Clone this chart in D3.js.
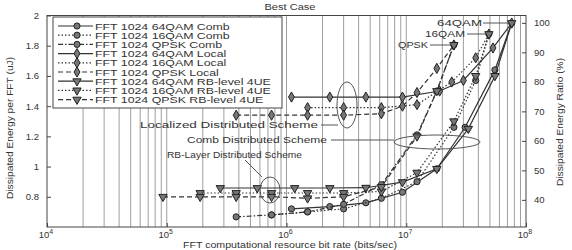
<!DOCTYPE html>
<html>
<head>
<meta charset="utf-8">
<script src="https://cdn.jsdelivr.net/npm/d3@7/dist/d3.min.js"></script>
<style>
  body { margin: 0; background: #fff; }
  text { font-family: "Liberation Sans", Arial, sans-serif; fill: #333; }
</style>
</head>
<body>
<div class="chart"></div>
<script>
// bit rates (bits/sec) and dissipated energy per FFT (uJ)
var rate64Comb  = [1.1e6, 2.3e6, 4.6e6, 9.3e6, 1.8e7, 3.1e7, 5.5e7, 7.6e7];
var energy64Comb = [0.72, 0.735, 0.76, 0.83, 0.985, 1.26, 1.64, 1.95];
var rate16Comb  = [7.5e5, 1.5e6, 3.0e6, 6.2e6, 1.23e7, 2.5e7, 3.8e7, 4.9e7];
var energy16Comb = [0.68, 0.70, 0.72, 0.79, 0.90, 1.26, 1.57, 1.877];
var rateQComb   = [3.8e5, 7.5e5, 1.5e6, 3.0e6, 6.2e6, 1.23e7, 1.8e7, 2.5e7];
var energyQComb  = [0.667, 0.68, 0.70, 0.75, 0.88, 1.21, 1.50, 1.805];

var rate64Local  = [1.1e6, 2.3e6, 4.6e6, 9.3e6, 1.9e7, 3.0e7, 5.3e7, 7.6e7];
var energy64Local = [1.46, 1.46, 1.46, 1.46, 1.50, 1.57, 1.785, 1.95];
var rate16Local  = [1.5e6, 3.0e6, 6.2e6, 1.23e7, 2.4e7, 3.8e7, 4.9e7];
var energy16Local = [1.39, 1.39, 1.39, 1.41, 1.56, 1.72, 1.877];
var rateQLocal   = [3.8e5, 7.5e5, 1.5e6, 3.0e6, 6.2e6, 9.3e6, 1.23e7, 1.8e7, 2.5e7];
var energyQLocal  = [1.34, 1.34, 1.34, 1.34, 1.35, 1.40, 1.49, 1.65, 1.805];

var rate64RB  = [2.8e5, 5.7e5, 1.17e6, 2.3e6, 4.6e6, 9.3e6, 1.8e7, 3.3e7, 5.5e7, 7.6e7];
var energy64RB = [0.858, 0.858, 0.858, 0.858, 0.86, 0.897, 0.985, 1.25, 1.6, 1.95];
var rate16RB  = [1.9e5, 3.8e5, 7.5e5, 1.5e6, 3.0e6, 6.2e6, 1.23e7, 2.5e7, 3.8e7, 4.9e7];
var energy16RB = [0.825, 0.825, 0.825, 0.825, 0.825, 0.835, 0.96, 1.30, 1.60, 1.877];
var rateQRB   = [9.3e4, 1.9e5, 3.8e5, 7.5e5, 1.5e6, 3.0e6, 6.2e6, 1.23e7, 1.8e7, 2.5e7];
var energyQRB  = [0.80, 0.80, 0.80, 0.80, 0.79, 0.80, 0.865, 1.2, 1.5, 1.805];

var seriesNames = [
  "FFT 1024 64QAM Comb", "FFT 1024 16QAM Comb", "FFT 1024 QPSK Comb",
  "FFT 1024 64QAM Local", "FFT 1024 16QAM Local", "FFT 1024 QPSK Local",
  "FFT 1024 64QAM RB-level 4UE", "FFT 1024 16QAM RB-level 4UE", "FFT 1024 QPSK RB-level 4UE"
];
var leftTicks = [0.8, 1, 1.2, 1.4, 1.6, 1.8, 2];
var rightTicks = [40, 50, 60, 70, 80, 90, 100];
var xDecades = [1e4, 1e5, 1e6, 1e7, 1e8];

var width = 572, height = 250;
var plot = { left: 47, right: 526, top: 15.5, bottom: 227 };

var x = d3.scaleLog().domain([1e4, 1e8]).range([plot.left, plot.right]);
var y = d3.scaleLinear().domain([0.6, 2]).range([plot.bottom, plot.top]);
var yRatio = d3.scaleLinear().domain([30.8, 102.5]).range([plot.bottom, plot.top]);

var svg = d3.select(".chart").append("svg")
  .attr("width", width).attr("height", height);

// stretch text horizontally, the source figure uses a wide face
function stretch(sel, k) {
  sel.each(function() {
    var w = this.getComputedTextLength();
    d3.select(this).attr("textLength", w * k).attr("lengthAdjust", "spacingAndGlyphs");
  });
}

// vertical grid at every log tick
var gridVals = [];
for (var e = 4; e < 8; e++) for (var m = 1; m < 10; m++) gridVals.push(m * Math.pow(10, e));
svg.append("g").selectAll("line").data(gridVals.filter(d => d > 1e4)).enter().append("line")
  .attr("x1", d => x(d)).attr("x2", d => x(d))
  .attr("y1", plot.top).attr("y2", plot.bottom)
  .attr("stroke", "#9e9e9e").attr("stroke-width", 1);

svg.append("rect")
  .attr("x", plot.left).attr("y", plot.top)
  .attr("width", plot.right - plot.left).attr("height", plot.bottom - plot.top)
  .attr("fill", "none").attr("stroke", "#444").attr("stroke-width", 1);

// axes
var leftAxis = svg.append("g").attr("transform", `translate(${plot.left},0)`)
  .call(d3.axisLeft(y).tickValues(leftTicks).tickSize(-4).tickPadding(8).tickFormat(d3.format("")));
var rightAxis = svg.append("g").attr("transform", `translate(${plot.right},0)`)
  .call(d3.axisRight(yRatio).tickValues(rightTicks).tickSize(-4).tickPadding(8));
var bottomAxis = svg.append("g").attr("transform", `translate(0,${plot.bottom})`)
  .call(d3.axisBottom(x).tickValues(xDecades).tickSize(-4).tickPadding(6).tickFormat(""));
[leftAxis, rightAxis, bottomAxis].forEach(a => {
  a.select(".domain").remove();
  a.selectAll("line").attr("stroke", "#444");
  a.selectAll("text").attr("font-size", 9.5).attr("fill", "#555")
    .attr("font-family", "Liberation Sans, Arial, sans-serif");
});

// decade labels with superscript
var xl = svg.append("g").selectAll("text").data(xDecades).enter().append("text")
  .attr("x", d => x(d) - 1).attr("y", 238)
  .attr("text-anchor", "middle").attr("font-size", 9.5).attr("fill", "#555");
xl.append("tspan").text("10");
xl.append("tspan").attr("dy", -4).attr("font-size", 7).text(d => Math.round(Math.log10(d)));

// titles
svg.append("text").attr("x", 290).attr("y", 10).attr("text-anchor", "middle")
  .attr("font-size", 8.5).text("Best Case").call(stretch, 1.3);
svg.append("text").attr("x", 290).attr("y", 248).attr("text-anchor", "middle")
  .attr("font-size", 8.5).text("FFT computational resource bit rate (bits/sec)").call(stretch, 1.25);
svg.append("text").attr("transform", "translate(13,128) rotate(-90)").attr("text-anchor", "middle")
  .attr("font-size", 8.5).text("Dissipated Energy per FFT (uJ)").call(stretch, 1.2);
svg.append("text").attr("transform", "translate(563,122) rotate(-90)").attr("text-anchor", "middle")
  .attr("font-size", 8.5).text("Dissipated Energy Ratio (%)").call(stretch, 1.2);

// series
var dashes = ["none", "1.5,2", "5,2,1.5,2"];
var dashesLocal = ["none", "1.5,2", "5,3"];
var shapes = [d3.symbolCircle, d3.symbolDiamond, d3.symbolTriangle];
var sets = [
  [rate64Comb, energy64Comb], [rate16Comb, energy16Comb], [rateQComb, energyQComb],
  [rate64Local, energy64Local], [rate16Local, energy16Local], [rateQLocal, energyQLocal],
  [rate64RB, energy64RB], [rate16RB, energy16RB], [rateQRB, energyQRB]
];
var series = sets.map((s, i) => ({
  name: seriesNames[i],
  dash: i < 3 ? dashes[i % 3] : dashesLocal[i % 3],
  shape: shapes[Math.floor(i / 3)],
  rotate: Math.floor(i / 3) == 2 ? 180 : 0,
  points: s[0].map((r, j) => [r, s[1][j]])
}));

var line = d3.line().x(d => x(d[0])).y(d => y(d[1]));
var sym = d3.symbol().size(30);

var g = svg.append("g").selectAll("g").data(series).enter().append("g");
g.append("path").attr("d", d => line(d.points))
  .attr("fill", "none").attr("stroke", "#333").attr("stroke-width", 1.2)
  .attr("stroke-dasharray", d => d.dash);
g.each(function(d) {
  d3.select(this).selectAll(".mk").data(d.points).enter().append("path")
    .attr("class", "mk")
    .attr("d", sym.type(d.shape)())
    .attr("transform", p => `translate(${x(p[0])},${y(p[1])}) rotate(${d.rotate})`)
    .attr("fill", "#777").attr("stroke", "#222").attr("stroke-width", 1);
});

// annotations
var ann = svg.append("g").attr("stroke", "#555").attr("fill", "none").attr("stroke-width", 1);
ann.append("ellipse").attr("cx", 347).attr("cy", 105).attr("rx", 10).attr("ry", 23);
ann.append("ellipse").attr("cx", 437).attr("cy", 142).attr("rx", 43).attr("ry", 7);
ann.append("ellipse").attr("cx", 270).attr("cy", 190).attr("rx", 10).attr("ry", 13);
ann.append("line").attr("x1", 321).attr("y1", 125).attr("x2", 338).attr("y2", 125);
ann.append("line").attr("x1", 331).attr("y1", 140).attr("x2", 394).attr("y2", 140);
ann.append("line").attr("x1", 245).attr("y1", 160).attr("x2", 262).attr("y2", 177);
ann.append("line").attr("x1", 483).attr("y1", 23).attr("x2", 509).attr("y2", 23);
ann.append("line").attr("x1", 467).attr("y1", 34).attr("x2", 486).attr("y2", 34);
ann.append("line").attr("x1", 430).attr("y1", 45).attr("x2", 451).attr("y2", 45);

// label text and the width it covers in the figure
var annText = [
  { t: "Localized Distributed Scheme", x: 140, y: 128, w: 178 },
  { t: "Comb Distributed Scheme", x: 187, y: 143, w: 140 },
  { t: "RB-Layer Distributed Scheme", x: 167, y: 158, w: 135 },
  { t: "64QAM", x: 437, y: 26, w: 45 },
  { t: "16QAM", x: 425, y: 37, w: 40 },
  { t: "QPSK", x: 398, y: 48, w: 30 }
];
svg.append("g").selectAll("text").data(annText).enter().append("text")
  .attr("x", d => d.x).attr("y", d => d.y).attr("font-size", 8.5).text(d => d.t)
  .attr("textLength", d => d.w).attr("lengthAdjust", "spacingAndGlyphs");

// legend
var lg = svg.append("g");
lg.append("rect").attr("x", 53).attr("y", 17).attr("width", 229).attr("height", 91)
  .attr("fill", "#fff").attr("stroke", "#444");
var items = lg.selectAll("g").data(series).enter().append("g")
  .attr("transform", (d, i) => `translate(0,${26 + i * 9.2})`);
items.append("line").attr("x1", 58).attr("x2", 93)
  .attr("stroke", "#333").attr("stroke-width", 1.2).attr("stroke-dasharray", d => d.dash);
items.append("path").attr("d", d => sym.type(d.shape)())
  .attr("transform", d => `translate(77,0) rotate(${d.rotate})`)
  .attr("fill", "#777").attr("stroke", "#222");
items.append("text").attr("x", 95).attr("y", 3.5).attr("font-size", 8.5).text(d => d.name)
  .call(stretch, 1.45);
</script>
</body>
</html>
